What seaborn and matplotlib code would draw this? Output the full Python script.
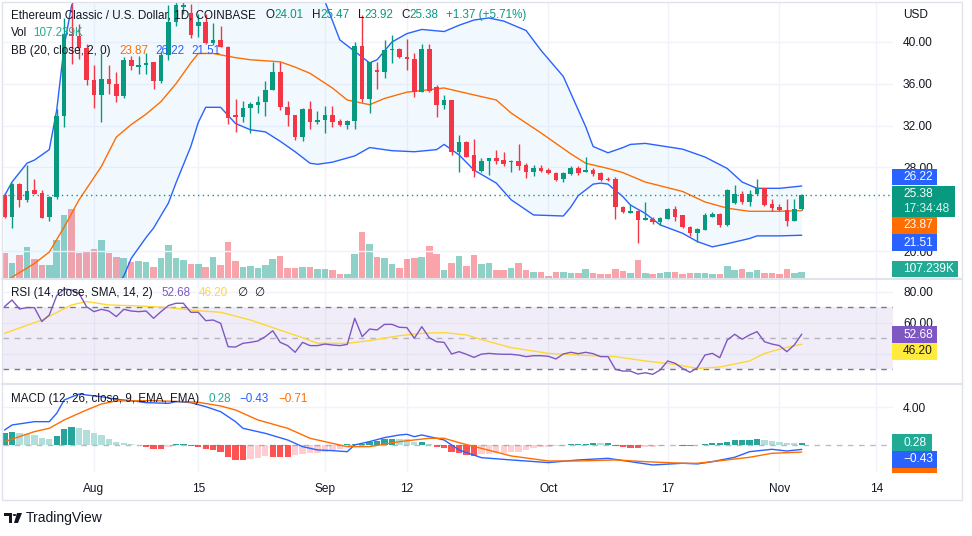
import matplotlib
matplotlib.use("Agg")
import matplotlib.pyplot as plt
import matplotlib.dates as mdates
from matplotlib.patches import Rectangle, Circle, Polygon
from matplotlib.lines import Line2D
from matplotlib.ticker import FormatStrFormatter
import numpy as np
import pandas as pd
import seaborn as sns

# ETC / USD daily candles (Coinbase), first candle 2022-07-20
first_day = "2022-07-20"

opens = [25.4, 23.3, 26.4, 24.9, 25.8, 25.6, 23.3, 25.2, 32.9, 40.8,
         40.6, 39.4, 36.4, 34.9, 36.5, 36.0, 34.8, 38.3, 37.6, 37.8,
         38.1, 36.3, 38.8, 41.9, 43.3, 42.8, 41.5, 41.9, 39.9, 40.2,
         39.5, 33.0, 32.8, 33.7, 34.0, 34.3, 35.4, 37.1, 33.8, 33.0,
         30.9, 33.6, 32.3, 32.5, 33.0, 32.4, 32.1, 32.4, 39.6, 34.5,
         37.3, 37.1, 39.2, 39.3, 38.6, 38.4, 35.2, 39.3, 35.7, 34.0,
         34.45, 29.5, 30.45, 29.2, 27.7, 28.6, 28.9, 28.7, 28.5, 28.6,
         28.2, 27.6, 27.9, 27.8, 27.5, 26.85, 27.4, 27.95, 27.6, 27.8,
         27.5, 26.9, 26.9, 24.2, 23.66, 23.8, 23.0, 23.1, 22.8, 23.1,
         24.0, 23.4, 22.3, 21.7, 22.0, 23.3, 23.5, 22.5, 24.6, 25.5,
         24.7, 25.5, 26.0, 24.5, 24.2, 23.9, 22.9, 24.01]
highs = [25.6, 26.5, 26.5, 28.2, 26.85, 25.8, 25.3, 33.6, 42.3, 43.6,
         41.7, 39.8, 37.8, 38.9, 37.8, 37.1, 38.6, 38.7, 38.7, 38.9,
         38.1, 39.1, 43.5, 44.0, 43.9, 43.6, 42.7, 42.7, 41.8, 41.5,
         39.6, 34.5, 34.4, 34.3, 34.8, 36.3, 38.1, 38.1, 34.4, 33.0,
         33.7, 34.4, 33.4, 33.9, 33.9, 32.6, 32.5, 40.0, 42.6, 38.1,
         38.1, 40.2, 40.7, 39.4, 40.3, 38.9, 39.8, 39.8, 35.9, 34.9,
         34.45, 31.1, 30.5, 30.7, 28.9, 28.9, 29.7, 29.5, 28.7, 30.2,
         28.4, 28.2, 28.2, 27.9, 27.6, 27.6, 28.1, 28.1, 29.0, 27.9,
         27.6, 27.1, 27.1, 24.3, 24.5, 23.9, 24.7, 23.3, 23.3, 24.1,
         24.3, 23.4, 22.4, 22.2, 23.6, 23.7, 23.6, 25.9, 26.3, 25.7,
         25.8, 26.9, 26.0, 25.0, 24.5, 25.0, 25.0, 25.47]
lows = [23.2, 22.2, 24.2, 24.65, 25.45, 23.2, 22.9, 25.0, 31.9, 37.9,
        38.4, 35.9, 33.7, 32.3, 35.0, 34.3, 34.6, 37.3, 36.9, 36.9,
        35.5, 36.1, 38.3, 41.5, 42.7, 40.4, 40.5, 39.8, 39.7, 39.5,
        32.2, 31.4, 32.3, 31.3, 33.2, 32.9, 35.4, 33.5, 32.0, 30.6,
        30.5, 31.7, 32.2, 31.3, 31.9, 32.0, 31.7, 31.7, 34.3, 33.2,
        35.5, 36.6, 38.0, 38.5, 37.3, 34.7, 35.2, 35.2, 32.8, 33.6,
        29.2, 27.6, 29.0, 27.1, 27.6, 27.3, 28.3, 28.1, 27.6, 27.8,
        27.0, 27.2, 27.6, 27.4, 26.7, 26.6, 27.3, 27.3, 27.6, 27.2,
        26.7, 26.7, 23.1, 23.6, 23.6, 20.8, 23.0, 22.6, 22.5, 23.1,
        22.9, 22.2, 21.4, 20.9, 22.0, 23.3, 22.3, 22.4, 24.5, 24.5,
        24.3, 25.4, 24.3, 23.8, 23.8, 22.4, 22.9, 23.92]
closes = [23.3, 26.4, 24.9, 25.7, 25.5, 23.2, 25.2, 32.9, 40.8, 40.6,
          39.4, 36.4, 34.9, 36.5, 36.0, 34.8, 38.3, 37.7, 37.8, 38.0,
          36.3, 38.8, 41.9, 43.5, 43.5, 40.7, 41.95, 39.9, 40.2, 39.5,
          32.7, 32.8, 33.7, 34.1, 34.3, 35.4, 37.1, 33.8, 33.0, 30.9,
          33.6, 32.3, 32.5, 33.0, 32.3, 32.1, 32.4, 39.6, 34.5, 38.1,
          37.1, 39.2, 39.3, 38.6, 38.4, 35.2, 39.3, 35.3, 34.0, 34.45,
          29.5, 30.45, 29.0, 27.7, 28.6, 28.9, 28.6, 28.3, 28.6, 28.1,
          27.6, 27.9, 27.7, 27.5, 26.8, 27.5, 27.9, 27.5, 27.8, 27.4,
          26.8, 26.8, 24.2, 23.7, 23.8, 23.0, 23.2, 22.8, 23.2, 24.0,
          23.3, 22.3, 21.7, 22.1, 23.4, 23.5, 22.5, 25.85, 25.5, 24.7,
          25.5, 26.0, 24.4, 24.1, 23.9, 22.9, 24.0, 25.38]
volume_k = [452, 273, 411, 554, 345, 232, 232, 674, 1126, 1238,
            452, 470, 518, 679, 452, 375, 363, 291, 304, 291,
            197, 363, 590, 363, 316, 256, 245, 202, 375, 232,
            649, 304, 202, 214, 184, 227, 334, 393, 173, 184,
            197, 197, 155, 166, 138, 66, 66, 434, 827, 613,
            375, 352, 245, 184, 345, 363, 375, 572, 434, 148,
            273, 393, 214, 411, 256, 268, 148, 148, 184, 268,
            148, 113, 113, 36, 102, 113, 95, 95, 161, 93,
            70, 66, 164, 130, 84, 322, 95, 77, 95, 107,
            113, 77, 89, 89, 89, 71, 77, 220, 148, 161,
            107, 143, 95, 89, 66, 155, 95, 107.239]

# Bollinger bands (20, 2), read at sample days
bb_up_day = [0, 1, 3, 4, 6, 7, 8, 9, 12, 20, 30, 38, 43, 45, 49, 50, 52, 54, 56, 59, 61,
             63, 65, 67, 70, 72, 75, 77, 78, 79, 81, 83, 84, 86, 91, 94, 97, 99, 101, 104, 107]
bb_up = [25.3, 26.6, 28.4, 28.7, 29.7, 33.5, 39.6, 43.5, 47.5, 50.0, 49.0, 46.5, 43.9, 40.2,
         38.0, 38.3, 40.0, 40.8, 41.2, 41.0, 41.6, 42.1, 42.3, 42.0, 41.1, 39.2, 36.7, 33.5,
         31.9, 30.0, 29.4, 29.9, 30.2, 30.3, 29.75, 29.0, 27.9, 26.6, 26.0, 26.0, 26.22]
bb_mid_day = [0, 1, 4, 6, 8, 10, 13, 15, 17, 19, 21, 23, 25, 26, 28, 31, 33, 37, 39, 41, 44,
              46, 49, 51, 54, 59, 62, 66, 68, 72, 76, 78, 81, 83, 86, 91, 94, 97, 100, 104, 107]
bb_mid = [17.1, 17.5, 18.8, 19.9, 22.3, 24.9, 28.1, 30.9, 32.1, 33.1, 34.3, 36.0, 38.0, 38.9,
          38.9, 38.5, 38.3, 38.1, 37.6, 37.0, 35.6, 34.45, 34.0, 34.6, 35.2, 35.6, 35.1, 34.45,
          33.2, 31.3, 29.3, 28.4, 27.9, 27.5, 26.6, 25.7, 24.7, 24.1, 23.8, 23.8, 23.87]
bb_low_day = [0, 10, 14, 16, 17, 19, 20, 22, 23, 25, 26, 27, 29, 31, 33, 35, 37, 39, 41, 42,
              44, 47, 49, 52, 55, 58, 59, 61, 63, 66, 68, 71, 75, 76, 77, 79, 80, 81, 83, 84,
              86, 88, 91, 93, 95, 97, 100, 101, 104, 107]
bb_low = [9.5, 13.0, 15.8, 17.6, 19.3, 21.3, 22.2, 24.6, 26.5, 30.0, 32.3, 33.75, 33.75, 32.2,
          31.6, 31.4, 30.5, 29.5, 28.4, 28.3, 28.5, 29.1, 29.9, 29.6, 29.5, 29.7, 30.2, 29.2,
          27.75, 26.5, 24.9, 23.45, 23.35, 24.2, 25.3, 26.4, 26.5, 26.4, 25.2, 24.4, 23.6, 22.5,
          21.7, 20.9, 20.4, 20.7, 21.2, 21.45, 21.45, 21.51]

# RSI (14) per day and its SMA (14) at sample days
rsi = [70.5, 74.7, 68.9, 69.8, 69.8, 60.8, 65.0, 77.5, 81.8, 81.2,
       79.0, 70.4, 67.2, 68.7, 67.6, 64.0, 68.7, 67.6, 67.2, 67.6,
       62.9, 67.2, 71.1, 72.6, 72.6, 66.8, 66.8, 61.4, 61.8, 59.7,
       44.6, 44.4, 46.8, 47.4, 48.3, 51.1, 54.9, 47.4, 45.3, 41.0,
       47.4, 45.3, 45.3, 46.3, 45.7, 45.3, 46.1, 62.9, 51.1, 56.0,
       55.4, 59.0, 59.0, 57.1, 56.9, 50.0, 57.5, 50.4, 47.8, 47.4,
       39.9, 41.4, 39.7, 37.7, 39.8, 40.3, 39.9, 39.7, 39.7, 39.2,
       38.2, 38.8, 38.8, 38.4, 36.7, 39.9, 41.0, 40.1, 41.0, 40.1,
       38.2, 38.2, 30.0, 28.9, 28.9, 27.0, 27.8, 26.8, 29.6, 35.4,
       33.9, 30.6, 28.1, 31.1, 39.2, 40.3, 37.5, 48.9, 52.6, 49.4,
       52.2, 54.3, 47.8, 46.3, 45.3, 41.4, 45.7, 52.68]
rsi_ma_day = [0, 5, 9, 11, 14, 18, 22, 26, 29, 33, 36, 40, 42, 46, 49, 53, 56, 59, 62, 64,
              68, 73, 77, 82, 86, 90, 93, 96, 100, 102, 105, 107]
rsi_ma = [53.2, 61.8, 71.5, 73.7, 71.5, 70.9, 69.8, 67.8, 66.8, 61.8, 56.9, 50.4, 46.8, 46.8,
          48.5, 51.7, 53.2, 53.7, 52.2, 49.2, 44.0, 40.3, 39.2, 38.2, 35.4, 33.2, 30.6, 31.5,
          35.4, 40.3, 44.2, 46.2]

# MACD (12, 26, 9)
macd_day = [0, 1, 4, 6, 7, 8, 10, 11, 13, 15, 17, 19, 22, 23, 25, 27, 29, 31, 32, 35, 38, 40,
            42, 44, 46, 47, 49, 51, 53, 54, 55, 56, 59, 61, 64, 68, 73, 77, 81, 84, 87, 91, 93,
            95, 98, 100, 103, 105, 107]
macd = [1.61, 2.14, 2.49, 2.49, 3.37, 4.77, 5.4, 5.3, 5.12, 4.84, 4.7, 4.49, 4.42, 4.6, 4.49,
        4.07, 3.54, 2.49, 1.79, 1.26, 0.56, -0.14, -0.49, -0.56, -0.67, 0.04, 0.39, 0.81, 1.09,
        1.16, 0.91, 1.09, 0.56, -0.49, -1.3, -1.54, -1.82, -1.54, -1.37, -1.72, -2.07, -1.89,
        -1.96, -1.72, -1.26, -0.67, -0.42, -0.6, -0.43]
signal_day = [0, 4, 6, 8, 11, 13, 15, 20, 24, 26, 29, 31, 34, 38, 41, 44, 46, 49, 53, 57, 59,
              61, 64, 68, 73, 77, 82, 86, 91, 93, 95, 100, 103, 107]
signal = [0.39, 1.44, 1.79, 2.67, 3.72, 4.35, 4.67, 4.7, 4.6, 4.53, 4.14, 3.72, 2.67, 1.79,
          0.74, 0.21, -0.14, -0.14, 0.39, 0.74, 0.74, 0.28, -0.32, -1.12, -1.65, -1.65, -1.54,
          -1.72, -1.89, -1.89, -1.72, -1.26, -0.84, -0.71]
hist = [1.33, 1.44, 1.33, 1.19, 1.09, 0.74, 0.63, 0.98, 1.68, 1.89,
        1.86, 1.61, 1.26, 1.09, 0.63, 0.39, 0.28, 0.14, 0.04, -0.14,
        -0.35, -0.39, -0.14, 0.14, 0.16, -0.07, -0.14, -0.42, -0.49, -0.67,
        -1.19, -1.5, -1.54, -1.45, -1.35, -1.15, -1.18, -1.2, -1.22, -1.05,
        -0.88, -0.82, -0.77, -0.67, -0.49, -0.42, 0.12, 0.14, 0.16, 0.39,
        0.46, 0.63, 0.65, 0.63, 0.62, 0.39, 0.40, 0.14, -0.14, -0.32,
        -0.67, -0.77, -1.0, -1.1, -0.95, -0.9, -0.85, -0.8, -0.75, -0.67,
        -0.49, -0.32, -0.21, -0.14, -0.12, -0.07, 0.14, 0.15, 0.16, 0.28,
        0.27, 0.29, -0.07, -0.14, -0.25, -0.26, -0.14, -0.13, -0.07, 0.04,
        0.07, -0.07, -0.08, 0.01, 0.14, 0.21, 0.28, 0.35, 0.56, 0.57,
        0.58, 0.67, 0.56, 0.46, 0.39, 0.28, 0.2, 0.28]

tick_dates = ["2022-08-01", "2022-08-15", "2022-09-01", "2022-09-12",
              "2022-10-01", "2022-10-17", "2022-11-01", "2022-11-14"]
tick_labels = ["Aug", "15", "Sep", "12", "Oct", "17", "Nov", "14"]

# ---------------------------------------------------------------
UP, DOWN = "#089981", "#f23645"
BLUE, ORANGE, PURPLE, YELLOW = "#2962ff", "#ff6d00", "#7e57c2", "#fdd835"
TXT = "#131722"
GRID = "#f0f3fa"

sns.set_theme(style="white")
plt.rcParams["font.family"] = ["Liberation Sans", "DejaVu Sans"]

W, H = 972, 536
fig = plt.figure(figsize=(W / 100, H / 100), dpi=100)
fig.patch.set_facecolor("white")


def to_dates(days):
    return pd.Timestamp(first_day) + pd.to_timedelta(np.asarray(days, dtype=float), unit="D")


def pane(top, bottom):
    return fig.add_axes([3 / W, 1 - bottom / H, 890 / W, (bottom - top) / H])


ax_v = pane(3, 278)
ax_p = pane(3, 278)
ax_r = pane(280, 383)
ax_m = pane(385, 472)
ax_p.patch.set_alpha(0)

n = len(closes)
dates = to_dates(np.arange(n))
o, h, l, c = map(np.array, (opens, highs, lows, closes))
up = c >= o
cols = np.where(up, UP, DOWN)

x0 = mdates.date2num(to_dates([-0.21])[0])
x1 = mdates.date2num(to_dates([119.25])[0])
ticks = mdates.date2num(pd.to_datetime(tick_dates))

for ax in (ax_v, ax_p, ax_r, ax_m):
    for s in ax.spines.values():
        s.set_visible(False)
    ax.set_xlim(x0, x1)
    ax.tick_params(length=0)
    ax.set_xticks(ticks)
    ax.set_xticklabels([])

# ---- price pane ----
ax_v.bar(dates, volume_k, width=0.88, color=cols, alpha=0.45, linewidth=0)
ax_v.set_ylim(0, 107.239 * 275 / 6)
ax_v.set_yticks([])
ax_v.grid(axis="x", color=GRID, lw=1)
ax_v.set_axisbelow(True)

up_d, low_d = to_dates(bb_up_day), to_dates(bb_low_day)
ax_p.fill(np.concatenate([mdates.date2num(up_d), mdates.date2num(low_d)[::-1]]),
          np.concatenate([bb_up, bb_low[::-1]]), color="#2196f3", alpha=0.055, lw=0)
sns.lineplot(x=up_d, y=bb_up, ax=ax_p, color=BLUE, linewidth=1)
sns.lineplot(x=low_d, y=bb_low, ax=ax_p, color=BLUE, linewidth=1)
sns.lineplot(x=to_dates(bb_mid_day), y=bb_mid, ax=ax_p, color=ORANGE, linewidth=1)

ax_p.vlines(dates, l, h, colors=cols, linewidth=1, zorder=3)
ax_p.bar(dates, np.maximum(np.abs(c - o), 0.06), bottom=np.minimum(o, c), width=0.62,
         color=cols, linewidth=0, zorder=3)
ax_p.axhline(c[-1], color=UP, lw=1, ls=(0, (1, 2.5)), zorder=4)

ax_p.set_ylim(17.42, 43.73)
ax_p.yaxis.tick_right()
# 24.00 sits under the last-price tag, so it is not drawn
ax_p.set_yticks([20, 28, 32, 36, 40])
ax_p.yaxis.set_major_formatter(FormatStrFormatter("%.2f"))
ax_p.grid(axis="y", color=GRID, lw=1)
ax_p.set_axisbelow(True)

# ---- RSI pane ----
ax_r.axhspan(30, 70, color=PURPLE, alpha=0.1, lw=0)
for lev, a in ((70, 1), (50, 0.5), (30, 1)):
    ax_r.axhline(lev, color="#787b86", lw=1, ls=(0, (4, 4)), alpha=a)
for lev in (40, 60, 80):
    ax_r.axhline(lev, color=GRID, lw=1, zorder=0)
sns.lineplot(x=to_dates(rsi_ma_day), y=rsi_ma, ax=ax_r, color=YELLOW, linewidth=1)
sns.lineplot(x=dates, y=rsi, ax=ax_r, color=PURPLE, linewidth=1)
ax_r.set_ylim(21.2, 87.6)
ax_r.yaxis.tick_right()
ax_r.set_yticks([60, 80])
ax_r.yaxis.set_major_formatter(FormatStrFormatter("%.2f"))
ax_r.grid(axis="x", color=GRID, lw=1)
ax_r.set_axisbelow(True)

# ---- MACD pane ----
hv = np.array(hist)
prev = np.concatenate([[hv[0] - 0.1], hv[:-1]])
hcol = np.where(hv >= 0, np.where(hv > prev, "#26a69a", "#b2dfdb"),
                np.where(hv < prev, "#ff5252", "#ffcdd2"))
ax_m.bar(dates, hv, width=0.85, color=hcol, linewidth=0)
ax_m.axhline(0, color="#787b86", lw=1, ls=(0, (4, 4)), alpha=0.5)
sns.lineplot(x=to_dates(macd_day), y=macd, ax=ax_m, color=BLUE, linewidth=1)
sns.lineplot(x=to_dates(signal_day), y=signal, ax=ax_m, color=ORANGE, linewidth=1)
ax_m.set_ylim(-2.81, 6.35)
ax_m.yaxis.tick_right()
ax_m.set_yticks([4])
ax_m.yaxis.set_major_formatter(FormatStrFormatter("%.2f"))
ax_m.grid(True, color=GRID, lw=1)
ax_m.set_axisbelow(True)
ax_m.set_xticklabels(tick_labels)

for ax in (ax_p, ax_r, ax_m):
    ax.set_xlabel("")
    ax.set_ylabel("")
    ax.tick_params(axis="y", pad=7.2, labelsize=8.6, labelcolor=TXT)
ax_m.tick_params(axis="x", pad=8, labelsize=8.6, labelcolor=TXT)

# ---- frame and separators ----
def hline_px(y, xa=2, xb=962, color="#e0e3eb", lw=1):
    fig.add_artist(Line2D([xa / W, xb / W], [1 - y / H, 1 - y / H], transform=fig.transFigure,
                          color=color, lw=lw))

fig.add_artist(Rectangle((2 / W, 1 - 500 / H), 960 / W, 498 / H, transform=fig.transFigure,
                         fill=False, edgecolor="#e0e3eb", lw=1))
hline_px(279, lw=1.5)
hline_px(384, lw=1.5)

# ---- value tags on the price scale ----
def tag(top, bottom, right, text, face, fg="white", sub=None):
    fig.add_artist(Rectangle((892 / W, 1 - bottom / H), (right - 892) / W, (bottom - top) / H,
                             transform=fig.transFigure, color=face, lw=0, zorder=5))
    if text:
        yc = (top + bottom) / 2 if sub is None else top + 8
        fig.text(903 / W, 1 - yc / H, text, color=fg, fontsize=8.6, va="center", ha="left",
                 zorder=6)
    if sub:
        fig.text(903 / W, 1 - (top + 23) / H, sub, color="#e0f2ee", fontsize=8.6,
                 va="center", ha="left", zorder=6)

tag(169, 185, 937, "26.22", BLUE)
tag(186, 217, 955, "25.38", UP, sub="17:34:48")
tag(217, 234, 937, "23.87", ORANGE)
tag(234, 251, 937, "21.51", BLUE)
tag(261, 277, 958, "107.239K", "#22ab94")
tag(326, 343, 937, "52.68", PURPLE)
tag(343, 360, 937, "46.20", "#ffeb3b", fg=TXT)
tag(434, 451, 932, "0.28", "#22ab94")
tag(451, 468, 937, "\u22120.43", BLUE)
tag(468, 473, 937, "", ORANGE)
fig.text(903 / W, 1 - 15 / H, "USD", color=TXT, fontsize=8.6, va="center", ha="left")

# ---- legends ----
renderer = fig.canvas.get_renderer()


def legend(y, parts, size=8.4):
    x = 11
    for txt, col, gap in parts:
        x += gap
        t = fig.text(x / W, 1 - y / H, txt, color=col, fontsize=size, va="center", ha="left",
                     zorder=6)
        x += t.get_window_extent(renderer).width


legend(15, [("Ethereum Classic / U.S. Dollar, 1D, COINBASE", TXT, 0),
            ("O", TXT, 10), ("24.01", UP, 0), ("H", TXT, 8), ("25.47", UP, 0),
            ("L", TXT, 8), ("23.92", UP, 0), ("C", TXT, 8), ("25.38", UP, 0),
            ("+1.37 (+5.71%)", UP, 8)])
legend(33, [("Vol", TXT, 0), ("107.239K", "#22ab94", 6)])
legend(51, [("BB (20, close, 2, 0)", TXT, 0), ("23.87", ORANGE, 9), ("26.22", BLUE, 7),
            ("21.51", BLUE, 7)])
legend(293, [("RSI (14, close, SMA, 14, 2)", TXT, 0), ("52.68", PURPLE, 9),
             ("46.20", YELLOW, 8), ("\u2205", TXT, 9), ("\u2205", TXT, 7)])
legend(399, [("MACD (12, 26, close, 9, EMA, EMA)", TXT, 0), ("0.28", "#22ab94", 9),
             ("\u22120.43", BLUE, 9), ("\u22120.71", ORANGE, 9)])

# ---- TradingView mark ----
def px(xp, yp):
    return (xp / W, 1 - yp / H)

fig.add_artist(Polygon([px(4, 513), px(12, 513), px(12, 523), px(9, 523), px(9, 516), px(4, 516)],
                       closed=True, transform=fig.transFigure, color=TXT, lw=0))
fig.add_artist(Circle(px(14.5, 515), 1.8 / W, transform=fig.transFigure, color=TXT, lw=0))
fig.add_artist(Polygon([px(17, 513), px(22, 513), px(18, 523), px(14, 523)], closed=True,
                       transform=fig.transFigure, color=TXT, lw=0))
fig.text(26 / W, 1 - 518 / H, "TradingView", color=TXT, fontsize=10, va="center", ha="left")

fig.savefig("out.png", dpi=100, facecolor="white")
